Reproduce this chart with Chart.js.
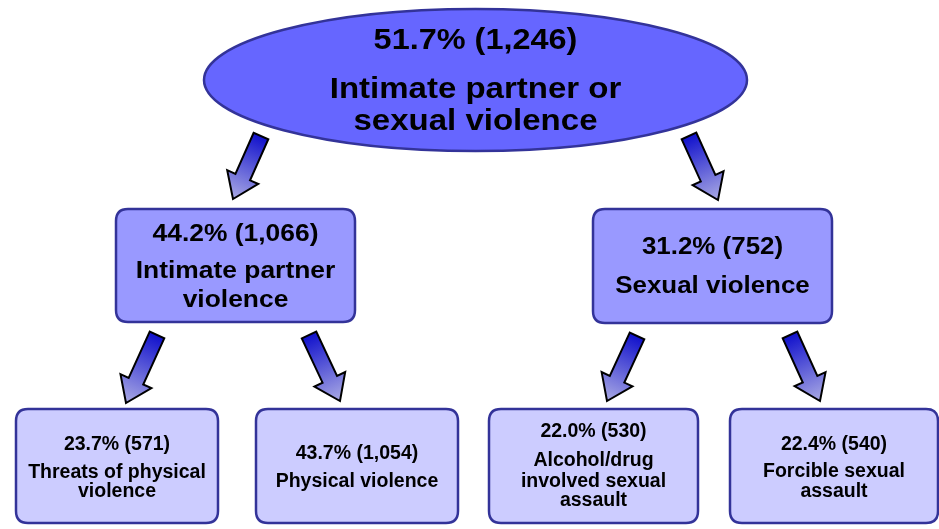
<!DOCTYPE html>
<html>
<head>
<meta charset="utf-8">
<script src="https://cdn.jsdelivr.net/npm/chart.js@4"></script>
<style>
  html, body { margin: 0; padding: 0; background: #fff; }
  canvas { display: block; }
</style>
</head>
<body>
<canvas id="tree" width="939" height="529"></canvas>
<script>
// node data
const nodePercents = [51.7, 44.2, 31.2, 23.7, 43.7, 22.0, 22.4];
const nodeCounts = [1246, 1066, 752, 571, 1054, 530, 540];
const nodeLabels = [
    ['Intimate partner or', 'sexual violence'],
    ['Intimate partner', 'violence'],
    ['Sexual violence'],
    ['Threats of physical', 'violence'],
    ['Physical violence'],
    ['Alcohol/drug', 'involved sexual', 'assault'],
    ['Forcible sexual', 'assault']
];
const nodeParents = [-1, 0, 0, 1, 1, 2, 2];

// layout, in scale units (x: 0..939, y: 0..529 top-down)
const layout = [
    { cx: 475.5, cy: 80, w: 543, h: 142, shape: 'ellipse', fill: '#6666ff', pct: 29.5, lbl: 30, sx: 1.1, pctY: 49, lineY: [98, 130] },
    { cx: 235.5, cy: 265.5, w: 239, h: 113, shape: 'box', fill: '#9999ff', pct: 24, lbl: 24, sx: 1.1, pctY: 241, lineY: [278, 307] },
    { cx: 712.5, cy: 266, w: 239, h: 114, shape: 'box', fill: '#9999ff', pct: 24, lbl: 24, sx: 1.08, pctY: 254, lineY: [293] },
    { cx: 117, cy: 466, w: 202, h: 114, shape: 'box', fill: '#ccccff', pct: 19.5, lbl: 19.5, sx: 1.0, pctY: 450, lineY: [478, 497] },
    { cx: 357, cy: 466, w: 202, h: 114, shape: 'box', fill: '#ccccff', pct: 19.5, lbl: 19.5, sx: 1.0, pctY: 459, lineY: [487] },
    { cx: 593.5, cy: 466, w: 209, h: 114, shape: 'box', fill: '#ccccff', pct: 19.5, lbl: 19.5, sx: 1.0, pctY: 437, lineY: [466, 487, 506] },
    { cx: 834, cy: 466, w: 208, h: 114, shape: 'box', fill: '#ccccff', pct: 19.5, lbl: 19.5, sx: 1.0, pctY: 450, lineY: [477, 497] }
];

// arrow from parent to child: tail centre and tip
const arrowLayout = {
    1: { tail: [261, 136], tip: [233, 199] },
    2: { tail: [689, 136], tip: [718, 200] },
    3: { tail: [157, 335], tip: [126, 403] },
    4: { tail: [309, 335], tip: [340, 401] },
    5: { tail: [637, 336], tip: [607, 401] },
    6: { tail: [790, 335], tip: [820, 401] }
};

function roundRect(ctx, x, y, w, h, r) {
    ctx.beginPath();
    ctx.moveTo(x + r, y);
    ctx.lineTo(x + w - r, y);
    ctx.quadraticCurveTo(x + w, y, x + w, y + r);
    ctx.lineTo(x + w, y + h - r);
    ctx.quadraticCurveTo(x + w, y + h, x + w - r, y + h);
    ctx.lineTo(x + r, y + h);
    ctx.quadraticCurveTo(x, y + h, x, y + h - r);
    ctx.lineTo(x, y + r);
    ctx.quadraticCurveTo(x, y, x + r, y);
    ctx.closePath();
}

function drawArrow(ctx, x1, y1, x2, y2) {
    const dx = x2 - x1, dy = y2 - y1;
    const len = Math.sqrt(dx * dx + dy * dy);
    const ux = dx / len, uy = dy / len;
    const px = -uy, py = ux;
    const shaft = 8, head = 17, headLen = 24;
    const bx = x2 - ux * headLen, by = y2 - uy * headLen;
    const pts = [
        [x1 + px * shaft, y1 + py * shaft],
        [bx + px * shaft, by + py * shaft],
        [bx + px * head, by + py * head],
        [x2, y2],
        [bx - px * head, by - py * head],
        [bx - px * shaft, by - py * shaft],
        [x1 - px * shaft, y1 - py * shaft]
    ];
    const grad = ctx.createLinearGradient(x1, y1, x2, y2);
    grad.addColorStop(0, '#1111cc');
    grad.addColorStop(1, '#aaaae4');
    ctx.beginPath();
    ctx.moveTo(pts[0][0], pts[0][1]);
    for (let i = 1; i < pts.length; i++) ctx.lineTo(pts[i][0], pts[i][1]);
    ctx.closePath();
    ctx.fillStyle = grad;
    ctx.fill();
    ctx.lineWidth = 2;
    ctx.strokeStyle = '#000';
    ctx.lineJoin = 'miter';
    ctx.stroke();
}

function drawText(ctx, text, x, y, size, sx) {
    ctx.save();
    ctx.translate(x, y);
    ctx.scale(sx, 1);
    ctx.font = 'bold ' + size + 'px "Liberation Sans", Arial, sans-serif';
    ctx.fillText(text, 0, 0);
    ctx.restore();
}

const treePlugin = {
    id: 'tree',
    afterDatasetsDraw(chart) {
        const ctx = chart.ctx;
        const xs = chart.scales.x, ys = chart.scales.y;
        const meta = chart.getDatasetMeta(0);

        ctx.save();
        // arrows
        nodeParents.forEach((p, i) => {
            if (p < 0) return;
            const a = arrowLayout[i];
            drawArrow(ctx,
                xs.getPixelForValue(a.tail[0]), ys.getPixelForValue(a.tail[1]),
                xs.getPixelForValue(a.tip[0]), ys.getPixelForValue(a.tip[1]));
        });

        // nodes
        meta.data.forEach((pt, i) => {
            const L = layout[i];
            const w = xs.getPixelForValue(L.cx + L.w / 2) - xs.getPixelForValue(L.cx - L.w / 2);
            const h = Math.abs(ys.getPixelForValue(L.cy + L.h / 2) - ys.getPixelForValue(L.cy - L.h / 2));
            if (L.shape === 'ellipse') {
                ctx.beginPath();
                ctx.ellipse(pt.x, pt.y, w / 2, h / 2, 0, 0, Math.PI * 2);
            } else {
                roundRect(ctx, pt.x - w / 2, pt.y - h / 2, w, h, 12);
            }
            ctx.fillStyle = L.fill;
            ctx.fill();
            ctx.lineWidth = 2.5;
            ctx.strokeStyle = '#333399';
            ctx.stroke();

            ctx.fillStyle = '#000';
            ctx.textAlign = 'center';
            ctx.textBaseline = 'alphabetic';
            const head = nodePercents[i].toFixed(1) + '% (' + nodeCounts[i].toLocaleString('en-US') + ')';
            drawText(ctx, head, pt.x, ys.getPixelForValue(L.pctY), L.pct, L.sx);
            nodeLabels[i].forEach((line, j) => {
                drawText(ctx, line, pt.x, ys.getPixelForValue(L.lineY[j]), L.lbl, L.sx);
            });
        });
        ctx.restore();
    }
};

new Chart(document.getElementById('tree'), {
    type: 'scatter',
    data: {
        datasets: [{
            label: 'Nodes',
            data: layout.map(L => ({ x: L.cx, y: L.cy })),
            pointRadius: 0,
            pointHoverRadius: 0
        }]
    },
    options: {
        responsive: false,
        animation: false,
        layout: { padding: 0 },
        plugins: {
            legend: { display: false },
            tooltip: { enabled: false }
        },
        scales: {
            x: { type: 'linear', min: 0, max: 939, display: false },
            y: { type: 'linear', min: 0, max: 529, reverse: true, display: false }
        }
    },
    plugins: [treePlugin]
});
</script>
</body>
</html>
